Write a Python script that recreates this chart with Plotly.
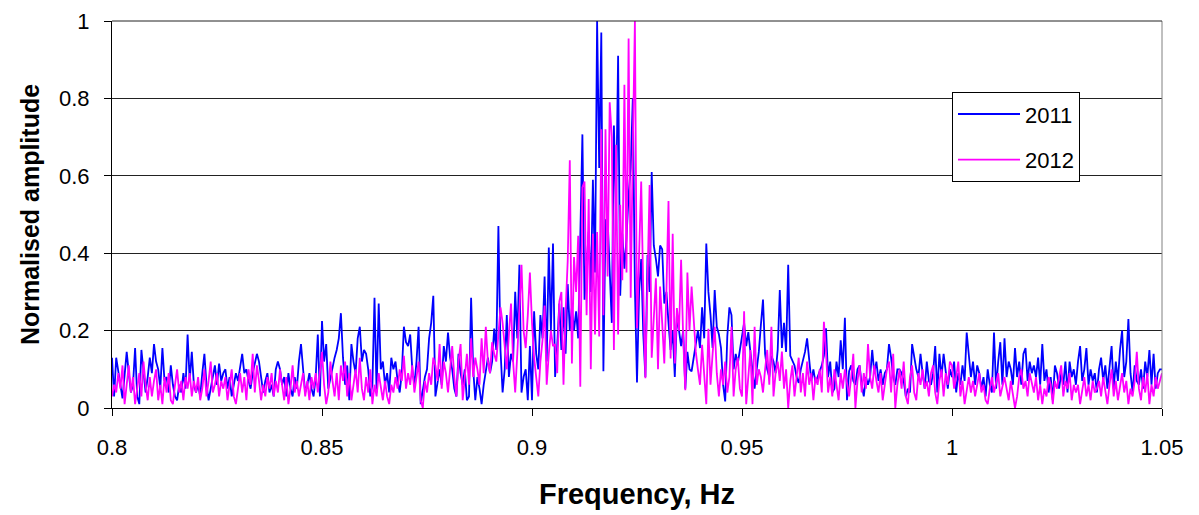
import plotly.graph_objects as go

# Frequency grid (Hz): start and step of the spectrum samples
freq_start = 0.8
freq_step = 0.0005

series_names = ["2011", "2012"]

amp_2011 = [
    0.13, 0.03, 0.13, 0.09, 0.06, 0.025, 0.08, 0.145, 0.09, 0.04,
    0.06, 0.155, 0.03, 0.01, 0.15, 0.09, 0.04, 0.08, 0.13, 0.09,
    0.165, 0.12, 0.10, 0.05, 0.155, 0.07, 0.08, 0.04, 0.11, 0.06,
    0.03, 0.02, 0.06, 0.04, 0.09, 0.05, 0.19, 0.07, 0.145, 0.06,
    0.04, 0.06, 0.03, 0.09, 0.14, 0.06, 0.02, 0.05, 0.08, 0.11,
    0.06, 0.115, 0.07, 0.09, 0.10, 0.05, 0.08, 0.03, 0.06, 0.09,
    0.07, 0.11, 0.14, 0.09, 0.10, 0.07, 0.05, 0.09, 0.12, 0.14,
    0.12, 0.08, 0.04, 0.07, 0.09, 0.04, 0.06, 0.03, 0.10, 0.12,
    0.10, 0.06, 0.08, 0.03, 0.09, 0.05, 0.03, 0.08, 0.05, 0.12,
    0.165, 0.10, 0.04, 0.06, 0.09, 0.05, 0.03, 0.08, 0.19, 0.03,
    0.225, 0.12, 0.165, 0.05, 0.08, 0.10, 0.13, 0.15, 0.18, 0.245,
    0.13, 0.06, 0.11, 0.02, 0.165, 0.12, 0.09, 0.18, 0.21, 0.12,
    0.15, 0.14, 0.10, 0.03, 0.06, 0.285, 0.04, 0.27, 0.10, 0.12,
    0.06, 0.09, 0.04, 0.13, 0.10, 0.12, 0.07, 0.04, 0.09, 0.21,
    0.17, 0.16, 0.19, 0.10, 0.06, 0.12, 0.21, 0.01, 0.05, 0.08,
    0.10, 0.18, 0.22, 0.29, 0.03, 0.06, 0.10, 0.06, 0.16, 0.12,
    0.195, 0.13, 0.10, 0.05, 0.03, 0.14, 0.09, 0.06, 0.10, 0.02,
    0.03, 0.285, 0.10, 0.02, 0.08, 0.05, 0.01, 0.06, 0.09, 0.13,
    0.09, 0.12, 0.205, 0.15, 0.47, 0.15, 0.04, 0.10, 0.24, 0.08,
    0.14, 0.12, 0.30, 0.18, 0.37, 0.04, 0.08, 0.10, 0.02, 0.16,
    0.02, 0.25, 0.14, 0.10, 0.24, 0.18, 0.34, 0.12, 0.415, 0.20,
    0.425, 0.08, 0.16, 0.27, 0.15, 0.26, 0.14, 0.32, 0.20, 0.26,
    0.20, 0.25, 0.18, 0.415, 0.707, 0.28, 0.37, 0.455, 0.30, 0.59,
    0.35, 1.0, 0.62, 0.97, 0.095, 0.485, 0.49, 0.33, 0.22, 0.73,
    0.50, 0.91, 0.29, 0.45, 0.36, 0.44, 0.55, 0.62, 0.80, 0.31,
    0.066, 0.30, 0.385, 0.19, 0.08, 0.395, 0.30, 0.61, 0.42, 0.385,
    0.34, 0.42, 0.41, 0.27, 0.30, 0.22, 0.15, 0.20, 0.08, 0.24,
    0.20, 0.16, 0.20, 0.05, 0.145, 0.10, 0.095, 0.13, 0.155, 0.20,
    0.155, 0.26, 0.18, 0.425, 0.30, 0.24, 0.155, 0.305, 0.21, 0.19,
    0.155, 0.06, 0.017, 0.185, 0.26, 0.24, 0.10, 0.14, 0.115, 0.15,
    0.19, 0.22, 0.16, 0.196, 0.145, 0.09, 0.05, 0.10, 0.145, 0.215,
    0.28, 0.14, 0.10, 0.08, 0.135, 0.12, 0.09, 0.15, 0.305, 0.155,
    0.22, 0.145, 0.37, 0.135, 0.12, 0.11, 0.08, 0.065, 0.10, 0.12,
    0.145, 0.18, 0.12, 0.07, 0.10, 0.065, 0.08, 0.095, 0.11, 0.135,
    0.206, 0.08, 0.12, 0.04, 0.05, 0.12, 0.08, 0.175, 0.10, 0.233,
    0.02, 0.095, 0.11, 0.07, 0.06, 0.10, 0.11, 0.06, 0.03, 0.08,
    0.06, 0.08, 0.15, 0.09, 0.12, 0.07, 0.10, 0.06, 0.09, 0.10,
    0.165, 0.13, 0.08, 0.06, 0.10, 0.10, 0.09, 0.07, 0.03, 0.05,
    0.04, 0.165, 0.13, 0.10, 0.08, 0.14, 0.09, 0.05, 0.12, 0.07,
    0.06, 0.09, 0.16, 0.04, 0.14, 0.08, 0.14, 0.10, 0.05, 0.10,
    0.08, 0.12, 0.04, 0.09, 0.06, 0.11, 0.07, 0.195, 0.14, 0.08,
    0.12, 0.06, 0.11, 0.09, 0.05, 0.08, 0.03, 0.10, 0.06, 0.04,
    0.195, 0.05, 0.12, 0.17, 0.06, 0.18, 0.08, 0.12, 0.10, 0.06,
    0.155, 0.08, 0.12, 0.06, 0.14, 0.155, 0.07, 0.12, 0.09, 0.11,
    0.08, 0.13, 0.06, 0.165, 0.07, 0.10, 0.04, 0.08, 0.02, 0.11,
    0.09, 0.05, 0.09, 0.06, 0.12, 0.04, 0.12, 0.08, 0.10, 0.06,
    0.12, 0.16, 0.07, 0.10, 0.155, 0.06, 0.10, 0.07, 0.09, 0.04,
    0.10, 0.13, 0.07, 0.11, 0.05, 0.10, 0.16, 0.05, 0.12, 0.07,
    0.15, 0.20, 0.08, 0.12, 0.23, 0.09, 0.04, 0.11, 0.07, 0.06,
    0.10, 0.05, 0.12, 0.08, 0.15, 0.06, 0.14, 0.05, 0.09, 0.10,
    0.10,
]

amp_2012 = [
    0.03, 0.06, 0.04, 0.09, 0.05, 0.11, 0.01, 0.06, 0.11, 0.04,
    0.08, 0.01, 0.05, 0.09, 0.03, 0.12, 0.06, 0.02, 0.08, 0.03,
    0.07, 0.10, 0.02, 0.06, 0.01, 0.08, 0.04, 0.09, 0.02, 0.01,
    0.06, 0.10, 0.04, 0.07, 0.02, 0.08, 0.05, 0.09, 0.03, 0.07,
    0.04, 0.08, 0.02, 0.05, 0.10, 0.03, 0.07, 0.12, 0.04, 0.06,
    0.09, 0.03, 0.07, 0.05, 0.08, 0.02, 0.06, 0.10, 0.03, 0.01,
    0.05, 0.09, 0.04, 0.08, 0.02, 0.10, 0.06, 0.14, 0.04, 0.11,
    0.07, 0.02, 0.06, 0.03, 0.08, 0.05, 0.09, 0.03, 0.07, 0.04,
    0.10, 0.06, 0.02, 0.08, 0.01, 0.05, 0.11, 0.04, 0.07, 0.03,
    0.06, 0.09, 0.03, 0.07, 0.02, 0.08, 0.05, 0.09, 0.04, 0.10,
    0.145, 0.06, 0.01, 0.04, 0.12, 0.07, 0.03, 0.09, 0.02, 0.11,
    0.07, 0.12, 0.03, 0.09, 0.02, 0.06, 0.10, 0.04, 0.13, 0.05,
    0.02, 0.08, 0.04, 0.10, 0.01, 0.06, 0.03, 0.09, 0.05, 0.02,
    0.07, 0.03, 0.01, 0.06, 0.04, 0.08, 0.05, 0.10, 0.07, 0.135,
    0.05, 0.09, 0.06, 0.11, 0.04, 0.08, 0.12, 0.02, 0.00, 0.07,
    0.04, 0.09, 0.06, 0.13, 0.11, 0.07, 0.165, 0.05, 0.12, 0.09,
    0.04, 0.10, 0.16, 0.08, 0.03, 0.12, 0.165, 0.02, 0.08, 0.14,
    0.06, 0.18, 0.08, 0.13, 0.10, 0.06, 0.18, 0.09, 0.21, 0.12,
    0.09, 0.17, 0.14, 0.12, 0.19, 0.26, 0.22, 0.15, 0.10, 0.19,
    0.27, 0.12, 0.04, 0.14, 0.24, 0.37, 0.20, 0.155, 0.24, 0.35,
    0.22, 0.13, 0.08, 0.03, 0.12, 0.175, 0.265, 0.06, 0.14, 0.20,
    0.16, 0.165, 0.09, 0.275, 0.30, 0.06, 0.25, 0.38, 0.64, 0.115,
    0.39, 0.30, 0.445, 0.055, 0.57, 0.585, 0.24, 0.54, 0.10, 0.45,
    0.19, 0.455, 0.185, 0.72, 0.24, 0.72, 0.34, 0.79, 0.70, 0.15,
    0.68, 0.19, 0.525, 0.33, 0.835, 0.35, 0.955, 0.285, 0.67, 1.0,
    0.206, 0.385, 0.585, 0.30, 0.077, 0.325, 0.576, 0.13, 0.25, 0.335,
    0.10, 0.314, 0.22, 0.115, 0.30, 0.535, 0.128, 0.45, 0.115, 0.258,
    0.20, 0.383, 0.18, 0.046, 0.35, 0.20, 0.314, 0.235, 0.145, 0.10,
    0.06, 0.163, 0.08, 0.01, 0.205, 0.06, 0.14, 0.21, 0.09, 0.03,
    0.10, 0.06, 0.12, 0.04, 0.08, 0.21, 0.03, 0.10, 0.13, 0.05,
    0.03, 0.25, 0.01, 0.09, 0.15, 0.01, 0.21, 0.06, 0.10, 0.08,
    0.04, 0.10, 0.15, 0.06, 0.21, 0.03, 0.09, 0.12, 0.07, 0.146,
    0.05, 0.10, 0.00, 0.07, 0.11, 0.03, 0.08, 0.13, 0.04, 0.09,
    0.03, 0.12, 0.06, 0.09, 0.02, 0.08, 0.06, 0.10, 0.04, 0.223,
    0.145, 0.04, 0.08, 0.03, 0.10, 0.06, 0.02, 0.09, 0.05, 0.10,
    0.06, 0.03, 0.08, 0.14, 0.00, 0.07, 0.11, 0.04, 0.09, 0.05,
    0.165, 0.08, 0.05, 0.11, 0.07, 0.04, 0.09, 0.02, 0.06, 0.10,
    0.12, 0.04, 0.14, 0.00, 0.06, 0.10, 0.05, 0.12, 0.03, 0.01,
    0.08, 0.11, 0.04, 0.02, 0.09, 0.06, 0.10, 0.05, 0.07, 0.03,
    0.09, 0.11, 0.04, 0.01, 0.07, 0.10, 0.03, 0.09, 0.06, 0.12,
    0.11, 0.05, 0.08, 0.12, 0.03, 0.07, 0.01, 0.05, 0.08, 0.04,
    0.07, 0.03, 0.06, 0.09, 0.04, 0.06, 0.02, 0.01, 0.05, 0.08,
    0.04, 0.07, 0.09, 0.03, 0.06, 0.08, 0.05, 0.02, 0.07, 0.04,
    0.00, 0.03, 0.08, 0.10, 0.05, 0.07, 0.03, 0.09, 0.06, 0.04,
    0.08, 0.02, 0.06, 0.01, 0.05, 0.03, 0.08, 0.06, 0.01, 0.07,
    0.05, 0.08, 0.11, 0.03, 0.07, 0.05, 0.09, 0.02, 0.06, 0.04,
    0.06, 0.01, 0.05, 0.08, 0.03, 0.06, 0.02, 0.07, 0.04, 0.05,
    0.07, 0.03, 0.08, 0.05, 0.01, 0.06, 0.10, 0.03, 0.07, 0.02,
    0.06, 0.09, 0.04, 0.07, 0.01, 0.05, 0.03, 0.07, 0.145, 0.05,
    0.02, 0.08, 0.04, 0.09, 0.01, 0.06, 0.03, 0.08, 0.05, 0.07,
    0.09,
]

x_tick_vals = [0.8, 0.85, 0.9, 0.95, 1.0, 1.05]
x_tick_text = ["0.8", "0.85", "0.9", "0.95", "1", "1.05"]
y_tick_vals = [0, 0.2, 0.4, 0.6, 0.8, 1.0]
y_tick_text = ["0", "0.2", "0.4", "0.6", "0.8", "1"]

colors = ["#0000FF", "#FF00FF"]
FONT = "Liberation Sans, Arial, sans-serif"

fig = go.Figure()
for name, vals, col in zip(series_names, [amp_2011, amp_2012], colors):
    fig.add_trace(go.Scatter(
        x0=freq_start, dx=freq_step, y=vals, mode="lines", name=name,
        legendgroup=name,
        line=dict(color=col, width=1.8),
    ))

fig.update_layout(
    width=1199, height=515,
    margin=dict(l=104, r=45, t=13, b=115),
    paper_bgcolor="white", plot_bgcolor="white",
    font=dict(family=FONT, size=22, color="black"),
    showlegend=True,
    legend=dict(
        x=0.8, y=0.816, xanchor="left", yanchor="top",
        bgcolor="white", bordercolor="black", borderwidth=1,
        font=dict(family=FONT, size=22, color="black"),
        itemwidth=62, traceorder="grouped", tracegroupgap=14,
    ),
    xaxis=dict(
        range=[0.8, 1.05], tickvals=x_tick_vals, ticktext=x_tick_text,
        showgrid=False, zeroline=False, automargin=False,
        showline=True, linecolor="black", linewidth=1,
        ticks="outside", ticklen=7, tickcolor="black", ticklabelstandoff=13,
        tickfont=dict(family=FONT, size=22),
        title=dict(text="<b>Frequency, Hz</b>", font=dict(family=FONT, size=29), standoff=24),
    ),
    yaxis=dict(
        range=[0, 1], tickvals=y_tick_vals, ticktext=y_tick_text,
        showgrid=True, gridcolor="#222222", gridwidth=1, zeroline=False, automargin=False,
        showline=True, linecolor="black", linewidth=1,
        ticks="outside", ticklen=7, tickcolor="black", ticklabelstandoff=10,
        tickfont=dict(family=FONT, size=22),
        title=dict(text="<b>Normalised amplitude</b>", font=dict(family=FONT, size=25), standoff=12),
    ),
    shapes=[
        dict(type="line", xref="paper", yref="paper", x0=1, x1=1, y0=0, y1=1,
             line=dict(color="#808080", width=1)),
        dict(type="line", xref="paper", yref="paper", x0=0, x1=1, y0=1, y1=1,
             line=dict(color="#222222", width=1)),
    ],
)

fig.write_html("out.html")
